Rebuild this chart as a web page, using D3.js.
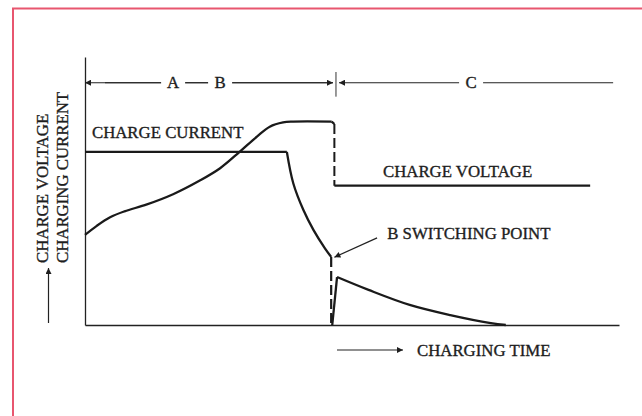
<!DOCTYPE html>
<html>
<head>
<meta charset="utf-8">
<script src="https://cdn.jsdelivr.net/npm/d3@7"></script>
<style>
  html, body { margin: 0; padding: 0; background: #fff; }
  text { font-family: "Liberation Serif", "Times New Roman", serif; fill: #1e1e1e; stroke: #1e1e1e; stroke-width: 0.35px; }
</style>
</head>
<body>
<script>
// data, in arbitrary units: time 0..100, level 0..100
var timeDomain = [0, 100];
var levelDomain = [0, 100];

var currentFlat = [[0, 64.6], [37.8, 64.6]];
var currentFall = [[37.8, 64.6], [39.0, 52.9], [40.9, 42.9], [42.8, 35.4], [44.9, 28.7], [46.1, 25.4]];
var currentSwitch = [[46.1, 25.4], [46.1, 0]];
var currentRise = [[46.3, 0], [47.2, 17.9]];
var currentTail = [[47.2, 17.9], [53.1, 13.1], [60.8, 7.5], [68.4, 3.7], [76.0, 0.7], [78.8, 0]];

var voltageRise = [[0, 33.6], [2.2, 37.0], [4.7, 40.2], [7.4, 42.4], [11.6, 45.0], [16.5, 48.8], [21.5, 53.9],
                   [25.3, 58.5], [29.0, 64.7], [32.2, 70.3], [34.6, 74.0], [37.1, 75.6], [39.0, 75.9], [46.2, 75.9]];
var voltageSwitch = [[46.7, 75.0], [46.7, 52.0]];
var voltageHold = [[46.7, 52.0], [94.6, 52.0]];

var phaseBounds = [0, 47.0, 98.9];
var phaseNames = ["A", "B", "C"];
var phaseAt = [16.5, 25.3, 72.3];

var svg = d3.select("body").append("svg")
    .attr("width", 642)
    .attr("height", 416);

var x = d3.scaleLinear().domain(timeDomain).range([85, 619]);
var y = d3.scaleLinear().domain(levelDomain).range([325, 57]);

var defs = svg.append("defs");
defs.append("marker")
    .attr("id", "arrow")
    .attr("viewBox", "0 0 10 10")
    .attr("refX", 10).attr("refY", 5)
    .attr("markerWidth", 8).attr("markerHeight", 6)
    .attr("markerUnits", "userSpaceOnUse")
    .attr("orient", "auto")
    .append("path")
    .attr("d", "M0,0L10,5L0,10Z")
    .attr("fill", "#1e1e1e");

// pink frame
svg.append("path")
    .attr("d", "M13,420V8.5H645")
    .attr("fill", "none")
    .attr("stroke", "#e8566f")
    .attr("stroke-width", 2);

// axes
var xAxis = svg.append("g")
    .attr("transform", "translate(0," + y(0) + ")")
    .call(d3.axisBottom(x).ticks(0).tickSizeOuter(0));
var yAxis = svg.append("g")
    .attr("transform", "translate(" + x(0) + ",0)")
    .call(d3.axisLeft(y).ticks(0).tickSizeOuter(0));
xAxis.select(".domain").attr("stroke", "#222").attr("stroke-width", 1.6);
yAxis.select(".domain").attr("stroke", "#222").attr("stroke-width", 1.3);

// phase dimension line
var dimY = y(90.4);
var dim = svg.append("g");
dim.append("line")
    .attr("x1", x(phaseBounds[1]) - 3).attr("x2", x(phaseBounds[0]))
    .attr("y1", dimY).attr("y2", dimY)
    .attr("stroke", "#222").attr("stroke-width", 1.2)
    .attr("marker-end", "url(#arrow)");
dim.append("line")
    .attr("x1", x(phaseBounds[0]) + 20).attr("x2", x(phaseBounds[1]) - 3)
    .attr("y1", dimY).attr("y2", dimY)
    .attr("stroke", "#222").attr("stroke-width", 1.2)
    .attr("marker-end", "url(#arrow)");
dim.append("line")
    .attr("x1", x(phaseBounds[2])).attr("x2", x(phaseBounds[1]) + 3)
    .attr("y1", dimY).attr("y2", dimY)
    .attr("stroke", "#222").attr("stroke-width", 1.2)
    .attr("marker-end", "url(#arrow)");
dim.append("line")
    .attr("x1", x(phaseBounds[1])).attr("x2", x(phaseBounds[1]))
    .attr("y1", y(94.4)).attr("y2", y(85.2))
    .attr("stroke", "#333").attr("stroke-width", 1);

phaseNames.forEach(function(n, i) {
    dim.append("rect")
        .attr("x", x(phaseAt[i]) - 12).attr("y", dimY - 8)
        .attr("width", 24).attr("height", 16)
        .attr("fill", "#fff");
    dim.append("text")
        .attr("x", x(phaseAt[i])).attr("y", dimY + 5.5)
        .attr("text-anchor", "middle")
        .attr("font-size", 16.8)
        .text(n);
});

// curves
var lineLin = d3.line().x(function(d) { return x(d[0]); }).y(function(d) { return y(d[1]); });
var lineCurve = d3.line().x(function(d) { return x(d[0]); }).y(function(d) { return y(d[1]); })
    .curve(d3.curveCatmullRom.alpha(0.5));

function draw(data, gen, dash, w) {
    svg.append("path")
        .datum(data)
        .attr("fill", "none")
        .attr("stroke", "#1a1a1a")
        .attr("stroke-width", w || 2.3)
        .attr("stroke-linejoin", "round")
        .attr("stroke-dasharray", dash || null)
        .attr("d", gen);
}

draw(currentFlat, lineLin);
draw(currentFall, lineCurve);
draw(currentSwitch, lineLin, "10,4", 2.2);
draw(currentRise, lineLin);
draw(currentTail, lineCurve);

draw(voltageRise, lineCurve);
draw([voltageRise[voltageRise.length - 1], voltageSwitch[0]], lineLin);
draw(voltageSwitch, lineLin, "10,4", 2);
draw(voltageHold, lineLin);

// labels
function label(t, v, s) {
    svg.append("text")
        .attr("x", x(t)).attr("y", y(v))
        .attr("font-size", 16.8)
        .text(s);
}
label(1.3, 69.6, "CHARGE CURRENT");
label(55.8, 55.2, "CHARGE VOLTAGE");
label(56.6, 32.1, "B SWITCHING POINT");

svg.append("line")
    .attr("x1", x(54.7)).attr("y1", y(32.5))
    .attr("x2", x(46.7)).attr("y2", y(25.3))
    .attr("stroke", "#222").attr("stroke-width", 1.2)
    .attr("marker-end", "url(#arrow)");

// x axis title
svg.append("line")
    .attr("x1", 337).attr("x2", 403)
    .attr("y1", 350).attr("y2", 350)
    .attr("stroke", "#222").attr("stroke-width", 1.2)
    .attr("marker-end", "url(#arrow)");
svg.append("text")
    .attr("x", 417).attr("y", 355.5)
    .attr("font-size", 16.8)
    .text("CHARGING TIME");

// y axis title
svg.append("line")
    .attr("x1", 48.5).attr("x2", 48.5)
    .attr("y1", 323).attr("y2", 268)
    .attr("stroke", "#222").attr("stroke-width", 1.2)
    .attr("marker-end", "url(#arrow)");
svg.append("text")
    .attr("transform", "translate(48,263) rotate(-90)")
    .attr("font-size", 16.8)
    .text("CHARGE VOLTAGE");
svg.append("text")
    .attr("transform", "translate(67.5,263) rotate(-90)")
    .attr("font-size", 16.8)
    .text("CHARGING CURRENT");
</script>
</body>
</html>
